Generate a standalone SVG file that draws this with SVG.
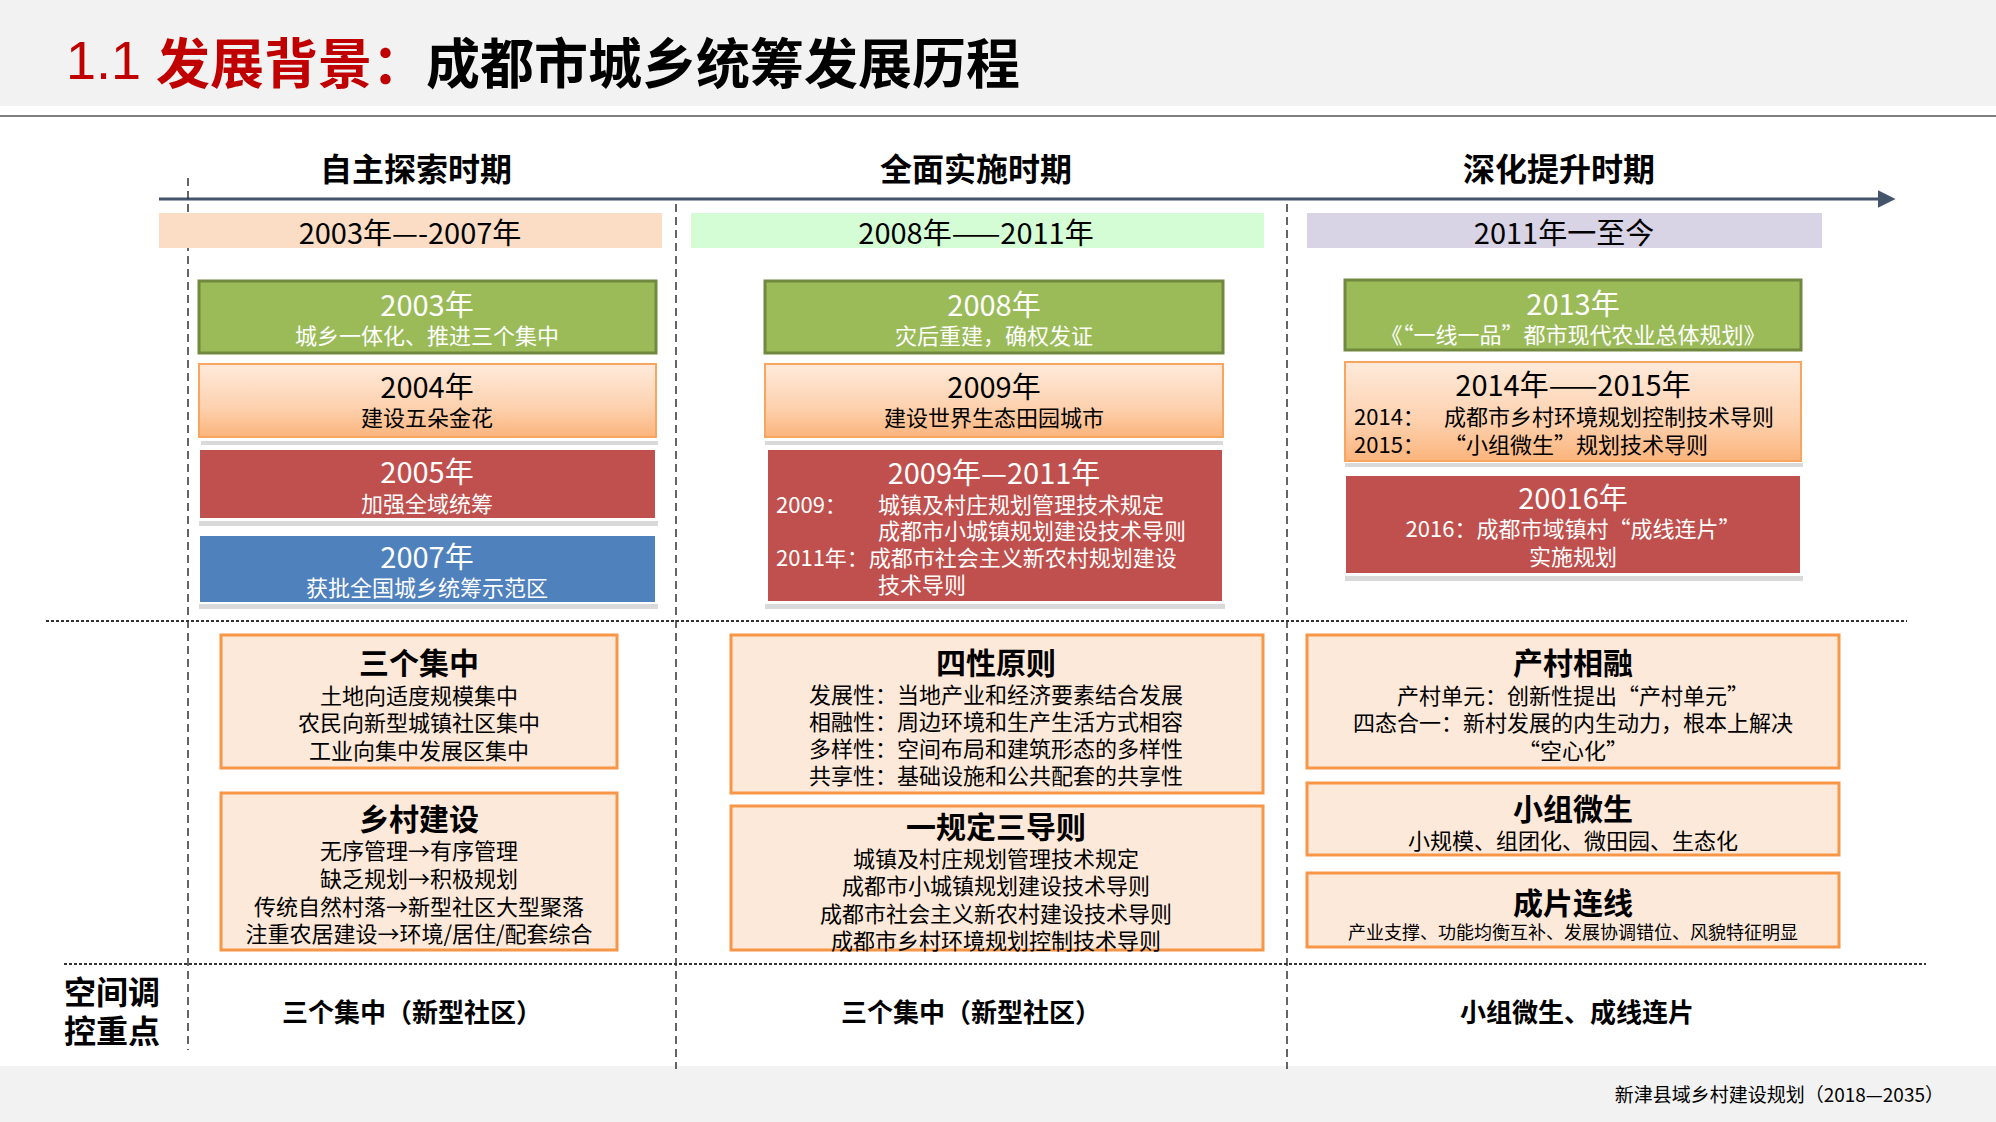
<svg xmlns="http://www.w3.org/2000/svg" width="1996" height="1122" viewBox="0 0 1996 1122">
<defs>
<linearGradient id="pg" x1="0" y1="0" x2="0" y2="1"><stop offset="0" stop-color="#feeadb"/><stop offset="0.6" stop-color="#fdd1ae"/><stop offset="1" stop-color="#fbb47c"/></linearGradient>
<marker id="ah" viewBox="0 0 10 10" refX="8" refY="5" markerWidth="6" markerHeight="6" orient="auto"><path d="M0,0 L10,5 L0,10 Z" fill="#44546a"/></marker>
<style>
text{font-family:"Noto Sans CJK SC","Liberation Sans",sans-serif;dominant-baseline:central;text-anchor:middle}
.hd{font-size:32px;font-weight:bold;fill:#000}
.per{font-size:29px;fill:#000}
.yr{font-size:29px;fill:#fff}
.sub{font-size:22px;fill:#fff}
.dk{fill:#000}
.grn{fill:#9bbb59;stroke:#71893f;stroke-width:3}
.pch{fill:url(#pg);stroke:#f8a65f;stroke-width:2}
.red{fill:#c0504d;stroke:#ffffff;stroke-width:2}
.blu{fill:#4f81bd;stroke:#ffffff;stroke-width:2}
.sh{fill:#d9d9d9}
.ob{fill:#fde9d9;stroke:#f79646;stroke-width:3}
.bt{font-size:30px;font-weight:bold;fill:#000}
.bl{font-size:22px;fill:#000}
.vd{stroke:#333;stroke-width:1.5;stroke-dasharray:8,5;fill:none}
.hdot{stroke:#333;stroke-width:2;stroke-dasharray:3,2;fill:none}
.ft{font-size:26px;font-weight:bold;fill:#000}
.st{text-anchor:start}
</style>
</defs>
<rect width="1996" height="1122" fill="#fff"/>
<rect x="0" y="0" width="1996" height="106" fill="#f2f2f2"/>
<line x1="0" y1="116" x2="1996" y2="116" stroke="#7f7f7f" stroke-width="2"/>
<text x="66" y="60" style="text-anchor:start;font-size:54px;font-weight:bold"><tspan fill="#c00000" font-weight="normal" font-family="Liberation Sans">1.1  </tspan><tspan fill="#c00000">发展背景：</tspan><tspan fill="#000">成都市城乡统筹发展历程</tspan></text>
<rect x="0" y="1066" width="1996" height="56" fill="#f2f2f2"/>
<text x="1944" y="1093" style="text-anchor:end;font-size:19px">新津县域乡村建设规划（2018—2035）</text>

<g id="connectors">
<line x1="159" y1="199" x2="1892" y2="199" stroke="#44546a" stroke-width="3" marker-end="url(#ah)"/>
<line class="vd" x1="188" y1="178" x2="188" y2="1050"/>
<line class="vd" x1="676" y1="204" x2="676" y2="1069"/>
<line class="vd" x1="1287" y1="204" x2="1287" y2="1069"/>
<line class="hdot" x1="46" y1="621" x2="1907" y2="621"/>
<line class="hdot" x1="64" y1="964" x2="1926" y2="964"/>
</g>

<g id="headers">
<text class="hd" x="416" y="167">自主探索时期</text>
<text class="hd" x="976" y="167">全面实施时期</text>
<text class="hd" x="1559" y="167">深化提升时期</text>
</g>
<g id="periods">
<rect x="159" y="213" width="503" height="35" fill="#fbdcc4"/>
<text class="per" x="410" y="231">2003年—-2007年</text>
<rect x="691" y="213" width="573" height="35" fill="#d5fdd5"/>
<text class="per" x="976" y="231">2008年——2011年</text>
<rect x="1307" y="213" width="515" height="35" fill="#d9d3e6"/>
<text class="per" x="1564" y="231">2011年一至今</text>
</g>

<g id="n2003"><rect class="grn" x="199" y="281" width="457" height="72"/><text class="yr" x="427" y="303">2003年</text><text class="sub" x="427" y="334">城乡一体化、推进三个集中</text></g>
<g id="n2004"><rect class="sh" x="201" y="441" width="457" height="4"/><rect class="pch" x="199" y="364" width="457" height="73"/><text class="yr dk" x="427" y="385">2004年</text><text class="sub dk" x="427" y="416">建设五朵金花</text></g>
<g id="n2005"><rect class="sh" x="199" y="521" width="459" height="5"/><rect class="red" x="199" y="449" width="457" height="70"/><text class="yr" x="427" y="470">2005年</text><text class="sub" x="427" y="502">加强全域统筹</text></g>
<g id="n2007"><rect class="sh" x="199" y="604" width="459" height="5"/><rect class="blu" x="199" y="535" width="457" height="68"/><text class="yr" x="427" y="555">2007年</text><text class="sub" x="427" y="586">获批全国城乡统筹示范区</text></g>

<g id="n2008"><rect class="grn" x="765" y="281" width="458" height="72"/><text class="yr" x="994" y="303">2008年</text><text class="sub" x="994" y="334">灾后重建，确权发证</text></g>
<g id="n2009"><rect class="sh" x="765" y="441" width="458" height="4"/><rect class="pch" x="765" y="364" width="458" height="73"/><text class="yr dk" x="994" y="385">2009年</text><text class="sub dk" x="994" y="416">建设世界生态田园城市</text></g>
<g id="n2009-2011"><rect class="sh" x="765" y="604" width="460" height="5"/><rect class="red" x="767" y="449" width="456" height="153"/><text class="yr" x="994" y="471">2009年—2011年</text>
<text class="sub st" x="776" y="503">2009：</text><text class="sub st" x="878" y="503">城镇及村庄规划管理技术规定</text><text class="sub st" x="878" y="529">成都市小城镇规划建设技术导则</text><text class="sub st" x="776" y="556">2011年：成都市社会主义新农村规划建设</text><text class="sub st" x="878" y="583">技术导则</text></g>

<g id="n2013"><rect class="grn" x="1345" y="280" width="456" height="70"/><text class="yr" x="1573" y="302">2013年</text><text class="sub" x="1573" y="333">《“一线一品”都市现代农业总体规划》</text></g>
<g id="n2014"><rect class="sh" x="1345" y="463" width="458" height="4"/><rect class="pch" x="1345" y="362" width="456" height="99"/><text class="yr dk" x="1573" y="383">2014年——2015年</text>
<text class="sub dk st" x="1354" y="415">2014：</text><text class="sub dk st" x="1444" y="415">成都市乡村环境规划控制技术导则</text><text class="sub dk st" x="1354" y="443">2015：</text><text class="sub dk st" x="1444" y="443">“小组微生”规划技术导则</text></g>
<g id="n2016"><rect class="sh" x="1345" y="576" width="458" height="5"/><rect class="red" x="1345" y="475" width="456" height="99"/><text class="yr" x="1573" y="496">20016年</text><text class="sub" x="1573" y="527">2016：成都市域镇村“成线连片”</text><text class="sub" x="1573" y="555">实施规划</text></g>

<g id="b1"><rect class="ob" x="221" y="635" width="396" height="133"/><text class="bt" x="419" y="661">三个集中</text><text class="bl" x="419" y="694">土地向适度规模集中</text><text class="bl" x="419" y="721">农民向新型城镇社区集中</text><text class="bl" x="419" y="749">工业向集中发展区集中</text></g>
<g id="b2"><rect class="ob" x="221" y="793" width="396" height="157"/><text class="bt" x="419" y="817">乡村建设</text><text class="bl" x="419" y="849">无序管理→有序管理</text><text class="bl" x="419" y="877">缺乏规划→积极规划</text><text class="bl" x="419" y="905">传统自然村落→新型社区大型聚落</text><text class="bl" x="419" y="932">注重农居建设→环境/居住/配套综合</text></g>
<g id="b3"><rect class="ob" x="731" y="635" width="532" height="158"/><text class="bt" x="996" y="661">四性原则</text><text class="bl" x="996" y="693">发展性：当地产业和经济要素结合发展</text><text class="bl" x="996" y="720">相融性：周边环境和生产生活方式相容</text><text class="bl" x="996" y="747">多样性：空间布局和建筑形态的多样性</text><text class="bl" x="996" y="774">共享性：基础设施和公共配套的共享性</text></g>
<g id="b4"><rect class="ob" x="731" y="806" width="532" height="144"/><text class="bt" x="996" y="825">一规定三导则</text><text class="bl" x="996" y="857">城镇及村庄规划管理技术规定</text><text class="bl" x="996" y="884">成都市小城镇规划建设技术导则</text><text class="bl" x="996" y="912">成都市社会主义新农村建设技术导则</text><text class="bl" x="996" y="939">成都市乡村环境规划控制技术导则</text></g>
<g id="b5"><rect class="ob" x="1307" y="635" width="532" height="133"/><text class="bt" x="1573" y="661">产村相融</text><text class="bl" x="1573" y="694">产村单元：创新性提出“产村单元”</text><text class="bl" x="1573" y="721">四态合一：新村发展的内生动力，根本上解决</text><text class="bl" x="1573" y="749">“空心化”</text></g>
<g id="b6"><rect class="ob" x="1307" y="783" width="532" height="72"/><text class="bt" x="1573" y="807">小组微生</text><text class="bl" x="1573" y="839">小规模、组团化、微田园、生态化</text></g>
<g id="b7"><rect class="ob" x="1307" y="873" width="532" height="74"/><text class="bt" x="1573" y="901">成片连线</text><text class="bl" x="1573" y="931" style="font-size:18px">产业支撑、功能均衡互补、发展协调错位、风貌特征明显</text></g>

<g id="bottom">
<text x="112" y="990" style="font-size:32px;font-weight:bold">空间调</text>
<text x="112" y="1029" style="font-size:32px;font-weight:bold">控重点</text>
<text class="ft" x="412" y="1010">三个集中（新型社区）</text>
<text class="ft" x="971" y="1010">三个集中（新型社区）</text>
<text class="ft" x="1577" y="1010">小组微生、成线连片</text>
</g>
</svg>
